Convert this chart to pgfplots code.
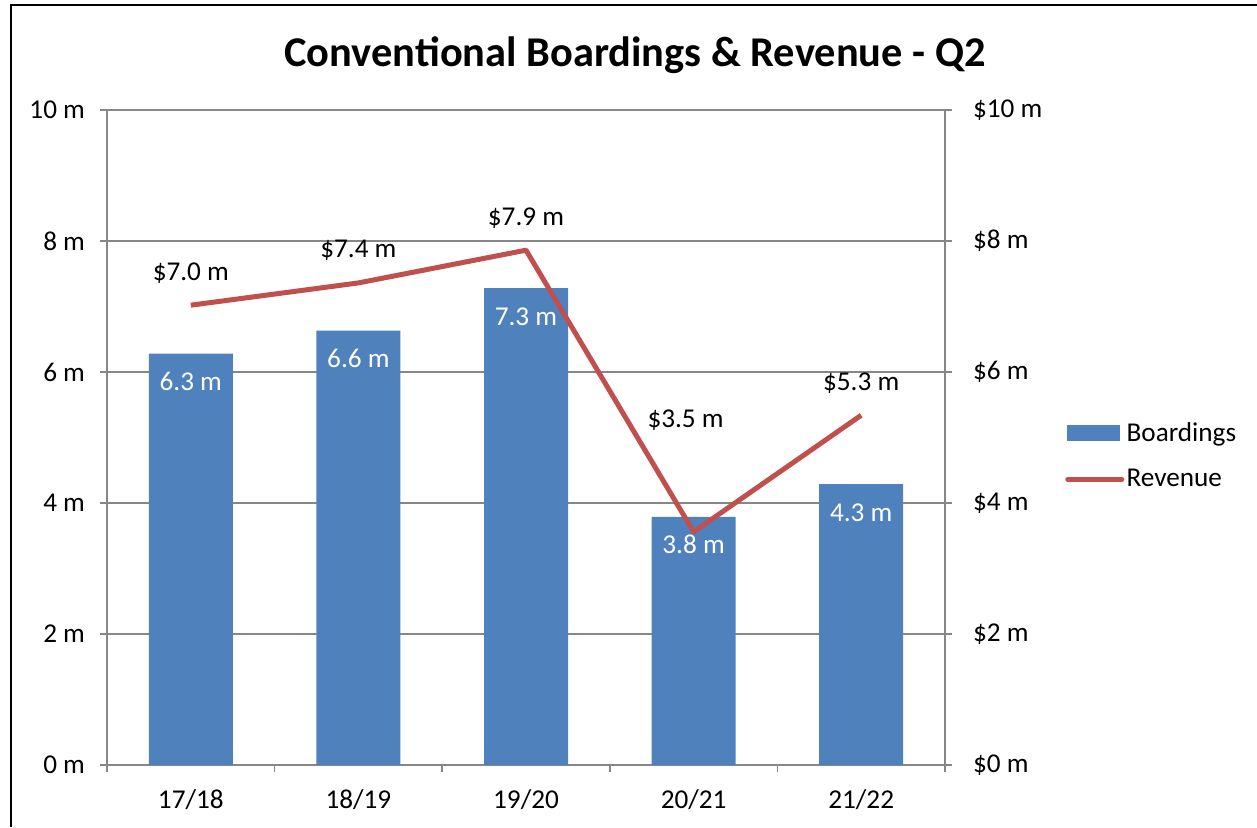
\documentclass[border=0pt]{standalone}
\usepackage{pgfplots}
\pgfplotsset{compat=1.18}
\usepackage{fontspec}
\setmainfont{Carlito}
\definecolor{barblue}{HTML}{4F81BD}
\definecolor{linered}{HTML}{C0504D}
\definecolor{axgray}{HTML}{878787}
\newcommand{\lblfont}{\fontsize{13.6}{16}\selectfont}
\begin{document}
\begin{tikzpicture}
\pgfplotsset{
 base/.style={
  scale only axis, width=419pt, height=327.5pt,
  at={(53.5pt,31pt)}, anchor=south west,
  xmin=-0.5, xmax=4.5, ymin=0, ymax=10,
  ytick={0,2,...,10},
  tick style={axgray, line width=0.75pt},
  axis line style={axgray, line width=0.75pt},
  tick align=outside,
  major tick length=3.5pt,
  minor tick length=3.5pt,
  ticklabel style={font=\lblfont},
  /pgf/number format/assume math mode=true,
 }
}
\begin{axis}[base,
  axis x line*=bottom, axis y line*=left,
  tick align=outside,
  xtick={0,...,4}, xticklabels={17/18,18/19,19/20,20/21,21/22},
  major x tick style={draw=none},
  minor xtick={-0.5,0.5,...,4.5},
  xticklabel style={yshift=-5.5pt},
  yticklabels={0 m,2 m,4 m,6 m,8 m,10 m},
  yticklabel style={xshift=-4pt},
  ymajorgrids, grid style={axgray, line width=0.75pt},
  ybar, bar width=42pt,
  nodes near coords={\pgfmathprintnumber[fixed,fixed zerofill,precision=1]{\pgfplotspointmeta}~m},
  point meta=explicit,
  every node near coord/.append style={anchor=base, yshift=-18.5pt, text=white, font=\lblfont, inner sep=0pt},
]
\addplot[fill=barblue, draw=none] table[x=x, y=y, meta=lab] {
x y lab
0 6.28 6.3
1 6.63 6.6
2 7.28 7.3
3 3.79 3.8
4 4.29 4.3
};
\end{axis}
\begin{axis}[base,
  axis y line*=right, axis x line=none,
  tick align=outside,
  yticklabels={\$0 m,\$2 m,\$4 m,\$6 m,\$8 m,\$10 m},
  yticklabel style={xshift=7pt},
  legend style={at={(1.143,0.472)}, anchor=west, draw=none, inner sep=0pt, font=\lblfont, row sep=10pt,
    nodes={inner sep=1.2pt}},
  legend cell align=left,
]
\addlegendimage{legend image code/.code={\fill[barblue] (0pt,-3.75pt) rectangle (26pt,3.75pt);}}
\addplot[linered, line width=2.5pt, line join=round,
  legend image code/.code={\draw[linered,line width=2.5pt,line cap=round] (0pt,0pt) -- (27pt,0pt);}]
  table[x=x, y=y] {
x y
0 7.02
1 7.36
2 7.86
3 3.56
4 5.34
};
\addplot[draw=none, forget plot,
  point meta=explicit,
  visualization depends on={\thisrow{off} \as \myoff},
  visualization depends on={\thisrow{xoff} \as \myxoff},
  nodes near coords={\$\pgfmathprintnumber[fixed,fixed zerofill,precision=1]{\pgfplotspointmeta}~m},
  every node near coord/.append style={anchor=base, yshift=\myoff pt, xshift=\myxoff pt, text=black, font=\lblfont, inner sep=0pt},
] table[x=x, y=y, meta=lab] {
x y lab off xoff
0 7.02 7.0 12.5 0
1 7.36 7.4 12.5 0
2 7.86 7.9 12.5 0
3 3.56 3.5 52 -4
4 5.34 5.3 12.5 0
};
\legend{Boardings,Revenue}
\end{axis}
\node[font=\bfseries\fontsize{21.2}{25}\selectfont] at (317.5pt,386pt) {Conventional Boardings \& Revenue - Q2};
\draw[line width=1pt] (5.5pt,0pt) -- (5.5pt,411pt) -- (628.5pt,411pt);
\pgfresetboundingbox
\path (0pt,0pt) rectangle (628.5pt,413.5pt);
\end{tikzpicture}
\end{document}
